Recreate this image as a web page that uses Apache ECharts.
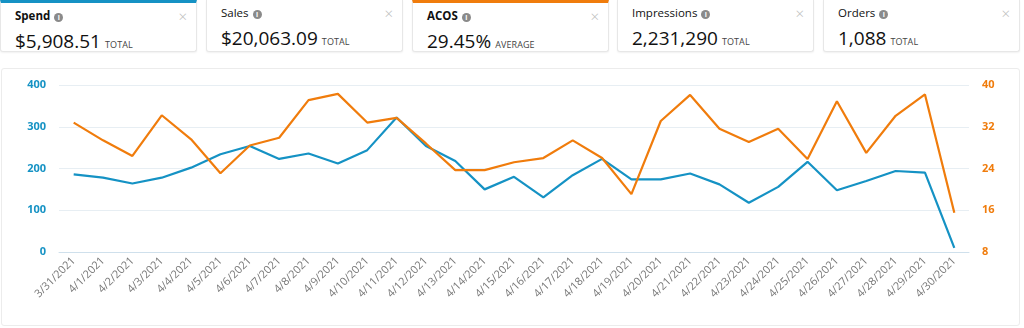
<!DOCTYPE html>
<html>
<head>
<meta charset="utf-8">
<script src="https://cdn.jsdelivr.net/npm/echarts@6/dist/echarts.min.js"></script>
<style>
  html,body{margin:0;padding:0;background:#fff;width:1024px;height:328px;overflow:hidden;font-family:"Open Sans",Roboto,sans-serif;}
  .card{position:absolute;top:0;height:52px;width:197px;background:#fff;border:1px solid #e7e7e7;border-top:none;border-radius:0 0 3px 3px;box-shadow:0 1px 2px rgba(0,0,0,0.06);box-sizing:border-box;}
  .card.sel-blue{border-top:3px solid #1592c4;}
  .card.sel-orange{border-top:3px solid #f07c0c;}
  .card .t{position:absolute;left:14px;top:5px;font-size:11.5px;font-weight:700;color:#111;}
  .card .i{display:inline-block;width:9px;height:9px;border-radius:50%;background:#8a8a8a;color:#fff;font-size:7px;line-height:9px;text-align:center;margin-left:4px;vertical-align:0px;font-weight:700;}
  .card .x{position:absolute;right:9px;top:3px;font-size:15px;color:#bdbdbd;font-weight:300;}
  .card .v{position:absolute;left:14px;top:25px;font-size:19px;color:#111;white-space:nowrap;}
  .card .v small{font-size:9px;color:#444;margin-left:4px;letter-spacing:0.1px;}
  #panel{position:absolute;left:1px;top:68px;width:1019px;height:258px;border:1px solid #ececec;border-radius:3px;box-sizing:border-box;}
  #chart{position:absolute;left:0;top:0;width:1024px;height:328px;}
</style>
</head>
<body>
<div class="card sel-blue" style="left:0px;"><div class="t">Spend<span class="i">i</span></div><div class="x">×</div><div class="v">$5,908.51<small>TOTAL</small></div></div>
<div class="card" style="left:206px;"><div class="t" style="font-weight:400">Sales<span class="i">i</span></div><div class="x">×</div><div class="v">$20,063.09<small>TOTAL</small></div></div>
<div class="card sel-orange" style="left:412px;"><div class="t">ACOS<span class="i">i</span></div><div class="x">×</div><div class="v">29.45%<small>AVERAGE</small></div></div>
<div class="card" style="left:617px;"><div class="t" style="font-weight:400">Impressions<span class="i">i</span></div><div class="x">×</div><div class="v">2,231,290<small>TOTAL</small></div></div>
<div class="card" style="left:823px;"><div class="t" style="font-weight:400">Orders<span class="i">i</span></div><div class="x">×</div><div class="v">1,088<small>TOTAL</small></div></div>
<div id="panel"></div>
<div id="chart"></div>
<script>
const categories = ["3/31/2021","4/1/2021","4/2/2021","4/3/2021","4/4/2021","4/5/2021","4/6/2021","4/7/2021","4/8/2021","4/9/2021","4/10/2021","4/11/2021","4/12/2021","4/13/2021","4/14/2021","4/15/2021","4/16/2021","4/17/2021","4/18/2021","4/19/2021","4/20/2021","4/21/2021","4/22/2021","4/23/2021","4/24/2021","4/25/2021","4/26/2021","4/27/2021","4/28/2021","4/29/2021","4/30/2021"];
const spend = [186,178,164,178,202,234,254,223,236,212,244,322,254,218,150,180,131,184,223,174,174,188,162,118,156,216,148,170,194,190,10];
const acos = [32.8,29.4,26.4,34.2,29.6,23.1,28.4,29.9,37.1,38.3,32.8,33.7,28.8,23.7,23.7,25.2,26.0,29.4,26.0,19.1,33.1,38.1,31.6,29.1,31.6,25.8,36.9,27.0,34.1,38.2,15.5];
const leftTicks = [0,100,200,300,400];
const rightTicks = [8,16,24,32,40];

const blue = '#1592c4', orange = '#f07c0c';
const chart = echarts.init(document.getElementById('chart'), null, {renderer:'canvas'});
chart.setOption({
  animation:false,
  grid:{left:59,right:55,top:85,bottom:76,containLabel:false},
  xAxis:{type:'category',data:categories,boundaryGap:true,
    axisLine:{lineStyle:{color:'#cfe0ec',width:1}},axisTick:{show:false},
    axisLabel:{rotate:45,interval:0,color:'#777',fontSize:11,fontFamily:'Open Sans',margin:7}},
  yAxis:[
    {type:'value',min:leftTicks[0],max:leftTicks[leftTicks.length-1],interval:100,
     axisLine:{show:false},axisTick:{show:false},
     axisLabel:{color:blue,fontWeight:'bold',fontSize:11,fontFamily:'Open Sans',margin:13},
     splitLine:{lineStyle:{color:'#e7eef3'}}},
    {type:'value',min:rightTicks[0],max:rightTicks[rightTicks.length-1],interval:8,
     axisLine:{show:false},axisTick:{show:false},
     axisLabel:{color:orange,fontWeight:'bold',fontSize:11,fontFamily:'Open Sans',margin:13},
     splitLine:{show:false}}
  ],
  series:[
    {name:'Spend',type:'line',data:spend,yAxisIndex:0,symbol:'none',lineStyle:{color:blue,width:2.2},itemStyle:{color:blue}},
    {name:'ACOS',type:'line',data:acos,yAxisIndex:1,symbol:'none',lineStyle:{color:orange,width:2.2},itemStyle:{color:orange}}
  ]
});
</script>
</body>
</html>
